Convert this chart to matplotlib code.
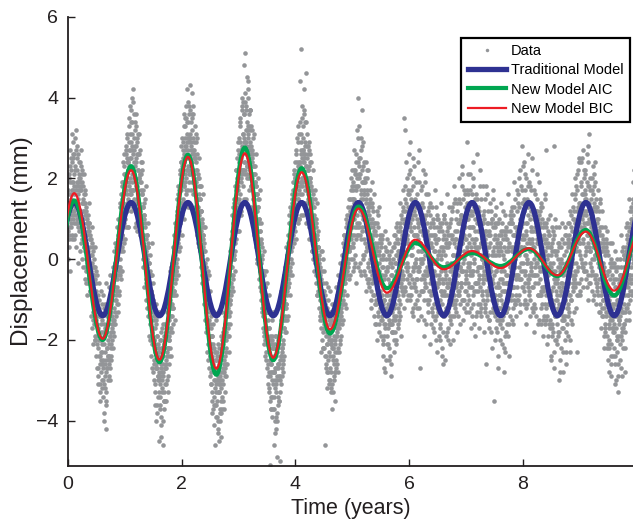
import numpy as np
import matplotlib
matplotlib.use("Agg")
import matplotlib.pyplot as plt
from matplotlib.path import Path
from matplotlib.patches import PathPatch
from matplotlib.lines import Line2D

plt.rcParams['font.family'] = ['Liberation Sans', 'DejaVu Sans']

# observed displacement in tenths of mm, 4 interleaved runs of 100 samples per year
a_y0 = [14, 5, 20, 10, 25, 14, 5, 31, 17, 10, 12, 23, 6, 17, 27, 10, 28, 15, 20, 7,
        19, 9, 23, 4, 14, 10, 18, 4, 12, -2, 14, 0, 9, 3, -5, 8, -2, 9, -6, 1,
        -7, 4, -7, -4, -15, -4, -19, -9, -15, -6, -19, -11, -27, -18, -12, -26, -33, -18, -23, -11,
        -23, -30, -16, -38, -26, -18, -28, -42, -18, -24, -16, -25, -29, -12, -19, -24, -8, -14, -18, -7,
        -5, -15, -5, -9, 2, -8, -2, -11, 5, -2, -2, 10, -3, 9, 6, 18, 5, 16, 23, 13]
a_y1 = [18, 8, 28, 14, 25, 8, 35, 23, 17, 31, 16, 37, 27, 13, 42, 24, 20, 32, 8, 28,
        29, 15, 9, 31, 20, 10, 21, 13, 24, 4, 8, 17, 0, 11, 0, 15, 2, -6, 6, 0,
        4, -7, -14, -3, -20, -11, -4, -18, -27, -13, -26, -14, -33, -22, -15, -40, -27, -22, -34, -45,
        -22, -37, -31, -44, -17, -28, -40, -26, -33, -19, -31, -18, -35, -23, -13, -29, -22, -14, -22, -9,
        -9, -17, -12, -1, -16, -3, -9, 4, -4, 2, -3, 12, 3, 13, 2, 14, 22, 9, 22, 14]
a_y2 = [11, 27, 22, 10, 36, 19, 30, 16, 42, 25, 30, 17, 38, 22, 13, 34, 27, 41, 19, 27,
        16, 29, 19, 33, 11, 24, 13, 26, 15, 3, 16, 6, 18, 7, 12, -4, 5, -2, 8, -8,
        -7, 2, -15, -6, -16, -3, -25, -15, -11, -24, -16, -31, -26, -38, -16, -27, -34, -22, -46, -33,
        -39, -23, -35, -30, -43, -25, -38, -31, -19, -44, -20, -34, -27, -37, -20, -27, -16, -29, -18, -9,
        -19, -10, -19, -4, -10, -13, 0, -6, 7, -5, 9, 0, 15, 2, 12, 22, 10, 19, 7, 29]
a_y3 = [26, 14, 33, 12, 25, 40, 22, 31, 14, 48, 22, 51, 37, 15, 32, 20, 42, 27, 17, 32,
        37, 18, 26, 12, 30, 18, 6, 23, 12, 23, 7, 16, 0, 15, 5, 15, -1, 4, -7, 4,
        3, -12, -3, -11, -19, -3, -13, -25, -13, -21, -20, -31, -13, -28, -51, -20, -28, -34, -19, -39,
        -21, -34, -46, -27, -32, -19, -39, -49, -27, -34, -29, -19, -33, -50, -15, -23, -27, -15, -28, -8,
        -10, -18, -5, -11, 1, -15, -7, 4, -6, 3, -4, 9, 2, 15, -1, 13, 8, 22, 7, 20]
a_y4 = [12, 26, 10, 21, 33, 10, 22, 44, 16, 29, 52, 16, 27, 11, 42, 25, 14, 34, 19, 28,
        11, 26, 15, 29, 5, 20, 24, 9, 14, 2, 16, 2, 11, 2, 15, 2, 10, -9, 5, -3,
        -8, 1, -14, -3, -13, -23, -3, -12, -22, -10, -17, -46, -11, -24, -17, -32, -10, -25, -31, -18,
        -27, -16, -33, -22, -37, -13, -25, -30, -16, -23, -13, -27, -17, -23, -8, -28, -16, -9, -20, -5,
        -13, -1, -16, -4, -11, 6, -5, 3, -12, 3, 9, -3, 7, -5, 15, 3, 12, 0, 20, 8]
a_y5 = [15, 0, 22, 6, 14, -1, 21, 32, 6, 14, 40, 8, 23, -1, 17, 5, 28, 37, 10, 19,
        1, 17, 4, 24, 7, -5, 17, 9, -2, 13, 3, 15, -8, 6, -4, 14, 1, -5, 7, -16,
        7, -11, 1, -7, 11, -5, -16, 2, -11, -4, -11, 6, -9, -20, -2, -16, -5, -28, 0, -12,
        2, -13, -21, -5, -16, -1, -10, -26, -4, -18, -2, -18, -6, -14, 6, -9, -21, 1, -6, 5,
        -12, 0, -15, 7, -5, 5, -7, 1, -9, 13, 5, 35, 12, 32, 10, -10, 5, 17, -2, 12]
a_y6 = [-4, 29, 7, -7, 13, 1, 18, -12, 6, -2, 15, 0, -5, 10, -10, 24, 5, -3, -27, 12,
        -1, 17, 2, -8, 11, -5, 6, 19, -7, 2, 11, -4, -13, 6, -2, 13, -8, 6, -1, -13,
        3, -8, 10, -3, -18, 5, -6, 13, -12, 0, -10, 5, -5, 9, -16, 0, -8, -24, 7, -6,
        10, -9, 1, -13, 4, -4, -18, 7, -7, 13, -5, 6, -14, -1, -9, 12, -6, -10, 4, -2,
        5, -11, 1, -6, 12, -8, -14, 4, -2, 10, -6, 9, -3, 18, -10, 6, 0, -6, 13, -3]
a_y7 = [5, -11, 29, -2, 8, -7, 17, -3, 3, -12, 11, -4, 24, 0, -8, 7, 15, -6, 5, -13,
        -2, 13, -5, 3, 18, -11, 7, 0, -8, 9, -10, 6, -1, 15, -5, -26, 3, 9, -8, 1,
        7, -3, -13, 9, -6, 1, -10, 15, -35, 3, -9, 11, -3, -17, 4, -6, 9, -9, 1, -20,
        3, -12, 6, -5, -14, 12, -8, 0, -23, 7, -4, 5, -16, 2, -10, 9, -6, -2, 12, -10,
        9, -7, 2, -12, 6, -2, 15, -9, 1, -4, -7, 4, 20, -2, 9, -11, 3, -5, 11, 23]
a_y8 = [-7, 24, 5, -4, 14, -12, 7, 0, 18, -6, 5, -8, 10, -1, 17, -4, 4, -12, 12, 0,
        -11, 8, 1, 12, -4, 5, -16, 10, -2, 12, 6, -8, 14, -2, -11, 8, 1, -7, 4, -16,
        8, 27, -4, -11, 1, -9, 6, -15, -1, -8, 8, -11, -1, -18, 2, 28, -14, 10, -10, -5,
        -16, 0, -12, 4, -30, -3, -8, -13, 9, -6, -28, -14, -3, -10, 8, -6, -18, 4, -4, 5,
        -9, 9, -4, -23, 3, -10, 5, -1, 13, -5, 10, -3, 16, -6, -23, -9, 10, 22, 2, 9]
a_y9 = [11, -8, 8, -1, 25, 4, 16, -3, 8, 21, 2, 15, -7, 9, 18, 4, 31, -1, 12, -4,
        15, 0, 7, -10, 13, 18, 1, -5, 7, 12, -8, 7, 1, 12, -5, -13, 6, -3, 12, -8,
        2, -10, 4, -3, -16, 5, -9, 7, -7, -21, 1, -10, -17, -5, -24, -2, -15, 4, -9, -17,
        -11, 2, -31, -5, -17, -10, -23, -2, -19, -6, 0, -14, -27, -4, -20, 3, -8, -16, 0, -9,
        -13, 1, -6, 9, -9, -1, -13, 7, -4, 10, 5, -9, 9, 0, 14, -2, 6, 14, 0, 18]

b_y0 = [7, 16, 3, 19, 13, 22, 9, 17, 26, 12, 21, 9, 30, 14, 18, 25, 11, 19, 8, 24,
        10, 20, 7, 17, 22, 5, 15, 12, 3, 16, 2, 12, -3, 10, 6, -6, 7, -4, 5, -8,
        5, -9, -1, -13, 3, -11, -16, -5, -20, -3, -8, -21, -17, -29, -10, -24, -14, -31, -20, -26,
        -15, -27, -34, -21, -12, -32, -25, -36, -22, -14, -24, -11, -21, -30, -9, -18, -22, -6, -17, -15,
        -16, -3, -13, -1, -10, 3, -7, 6, -4, 8, 7, -4, 13, 2, 15, 3, 19, 8, 21, 11]
b_y1 = [21, 12, 26, 16, 30, 13, 24, 33, 19, 27, 29, 17, 34, 21, 26, 39, 15, 28, 23, 36,
        24, 14, 30, 22, 11, 26, 19, 8, 21, 17, 16, 4, 13, 1, 11, -2, 9, -5, 6, -7,
        -7, 3, -12, -1, -16, -6, -19, -4, -21, -10, -12, -25, -20, -31, -16, -27, -36, -19, -29, -24,
        -30, -20, -34, -27, -41, -22, -32, -29, -37, -21, -27, -16, -31, -25, -19, -33, -13, -24, -20, -10,
        -18, -6, -14, -11, -3, -9, 0, -8, 3, -5, 8, -2, 11, 4, 16, 6, 17, 9, 20, 24]
b_y2 = [23, 14, 29, 25, 18, 33, 28, 20, 35, 31, 22, 34, 29, 19, 37, 31, 24, 29, 36, 21,
        30, 19, 27, 16, 25, 29, 12, 22, 20, 10, 20, 9, 15, 3, 12, 1, 10, -4, 6, -6,
        2, -9, -2, -13, -5, -17, -8, -21, -11, -23, -24, -14, -28, -19, -33, -21, -30, -36, -23, -32,
        -31, -36, -24, -40, -29, -33, -22, -37, -30, -35, -30, -21, -35, -18, -28, -25, -14, -23, -26, -11,
        -9, -17, -6, -14, -3, -11, 2, -9, 5, -2, 6, 13, 1, 15, 8, 17, 5, 20, 12, 22]
b_y3 = [24, 15, 29, 35, 20, 27, 38, 22, 31, 36, 30, 21, 39, 28, 34, 23, 44, 31, 36, 20,
        29, 33, 18, 27, 24, 15, 26, 11, 21, 19, 18, 8, 16, 4, 13, 2, 10, -3, 7, -8,
        4, -10, 1, -14, -4, -18, -7, -20, -10, -23, -13, -26, -21, -32, -17, -29, -25, -37, -20, -30,
        -31, -22, -37, -28, -43, -24, -33, -30, -40, -21, -26, -35, -18, -29, -24, -31, -12, -22, -25, -9,
        -17, -6, -14, -2, -11, -8, 1, -7, 4, -3, 9, -2, 12, 3, 14, 6, 17, 4, 19, 10]
b_y4 = [20, 11, 24, 18, 29, 15, 23, 31, 19, 26, 27, 38, 18, 30, 24, 36, 17, 29, 46, 23,
        25, 14, 28, 19, 23, 11, 20, 24, 8, 17, 15, 6, 13, 3, 10, -1, 9, -4, 6, -6,
        3, -7, -1, -10, -4, -13, 2, -15, -8, -18, -16, -22, -9, -19, -26, -12, -21, -28, -14, -23,
        -24, -13, -28, -20, -15, -31, -22, -26, -11, -35, -21, -12, -25, -18, -9, -22, -17, -6, -15, -13,
        -5, -14, -2, -10, 1, -8, 3, -6, 5, -4, 6, -4, 9, -1, 11, 2, 8, 13, 3, 15]
b_y5 = [12, 19, 4, 15, 22, 8, 17, 26, 11, 20, 18, 25, 9, 21, 14, 30, 16, 7, 23, 15,
        16, 5, 19, 10, 2, 14, 20, -1, 12, 4, 11, -3, 8, 1, 13, -6, 6, -2, 9, -9,
        -4, 6, -10, 3, -7, 8, -13, 1, -9, 5, 3, -12, -2, -15, 1, -10, -19, -4, -13, 2,
        -14, -3, -17, -9, 0, -22, -6, -12, -16, -1, -10, 0, -15, -5, -12, 4, -18, -3, -8, 1,
        4, -9, 2, -13, 8, -4, 11, -7, 3, -1, -4, 7, -8, 10, 1, 14, -3, 6, 16, -6]
b_y6 = [12, -4, 9, -9, 15, 3, -2, 20, -6, 8, -1, 11, -8, 6, 16, -3, 2, -12, 9, 4,
        13, -5, 7, -1, 22, 0, -10, 10, -3, 6, -7, 9, 2, -11, 5, -3, 14, -6, 3, -9,
        6, -12, -1, 8, -7, 2, -15, 4, -4, 11, -13, 1, -6, 7, -10, -20, 3, -5, 9, -14,
        2, -8, 11, -3, -13, 5, -1, -9, 8, -17, -11, 4, -6, 10, -2, -14, 6, -4, 1, -9,
        7, -3, -10, 3, -6, 14, -1, -8, 9, 2, -2, 11, -7, 4, 15, -3, 6, -12, 8, 1]
b_y7 = [-5, 14, 3, -9, 10, -2, 6, 21, -7, 1, 16, -3, 8, -11, 4, 12, -6, 2, -14, 9,
        3, -8, 11, -4, 7, -13, 1, 15, -2, 5, -6, 10, -1, 4, -12, 7, -4, -9, 12, -2,
        3, -15, 6, -5, -1, 10, -9, 2, -13, 5, -4, 8, -11, 1, -18, 5, -7, -2, 10, -12,
        4, -10, -3, 9, -15, 1, -6, -22, 6, -8, -13, 2, 7, -6, -1, -16, 4, -9, 11, -3,
        -2, 9, -7, 3, 13, -10, 0, 6, -5, 12, 7, -4, 14, 1, -9, 10, 3, -1, 17, 5]
b_y8 = [9, -3, 15, 1, -10, 6, 20, -1, 4, -7, 13, -5, 2, 18, -2, 8, -12, 5, 11, -4,
        3, 16, -6, 7, -1, 12, 4, -9, 19, 0, -5, 9, -12, 3, 10, -3, -8, 6, -14, 2,
        5, -9, 0, -14, 7, -4, -11, 3, -17, -2, -8, 4, -16, -3, -11, 6, -20, -6, 1, -13,
        -10, 2, -18, -7, 3, -13, -1, -22, -6, 5, -4, -15, 1, -9, -20, -2, 6, -12, -7, 3,
        -11, 4, -6, 12, -2, -15, 7, 0, -8, 10, 3, 15, -4, 8, -1, 12, 21, 5, -6, 14]
b_y9 = [1, 14, 7, 19, -2, 10, 5, 22, 12, -1, 16, 3, 11, 26, 6, -4, 14, 9, 20, 2,
        9, 17, -3, 12, 4, 21, 0, 8, -6, 15, 6, -7, 10, -1, 4, -11, 8, -5, 2, -14,
        -6, 3, -12, -2, -17, 1, -9, -14, 4, -19, -13, -3, -20, -8, -15, 0, -26, -11, -6, -18,
        -5, -16, -9, -24, -2, -14, -20, -8, -29, -12, -15, -4, -19, -9, 2, -17, -6, -13, 1, -22,
        -7, 3, -12, 5, -2, -9, 8, -5, 1, -10, 9, -2, 12, 4, -5, 10, 2, 16, 7, -3]

c_y0 = [17, 6, 12, 23, 8, 15, 19, 11, 25, 16, 18, 11, 22, 13, 9, 19, 16, 26, 12, 17,
        12, 17, 8, 21, 6, 14, 9, 16, 3, 11, 11, 4, 9, -1, 7, 1, -4, 5, 3, -3,
        -4, 1, -8, -2, -10, -6, -13, -2, -14, -9, -16, -10, -22, -14, -20, -13, -24, -16, -28, -21,
        -18, -25, -19, -31, -23, -17, -35, -22, -27, -16, -20, -14, -26, -19, -13, -21, -16, -10, -15, -9,
        -12, -7, -10, -4, -8, 0, -5, 2, -3, 4, 4, 0, 8, 3, 11, 6, 14, 9, 17, 10]
c_y1 = [13, 20, 17, 24, 15, 22, 27, 18, 25, 20, 25, 19, 31, 22, 17, 27, 21, 34, 25, 18,
        18, 26, 15, 22, 14, 21, 12, 19, 10, 16, 9, 13, 6, 10, 3, 8, 0, 5, -2, 3,
        -5, -1, -9, -4, -12, -8, -15, -9, -17, -12, -20, -15, -23, -17, -26, -19, -24, -30, -21, -28,
        -23, -29, -20, -26, -33, -22, -28, -24, -35, -27, -20, -26, -19, -24, -17, -22, -15, -20, -12, -17,
        -11, -14, -7, -12, -5, -8, -2, -6, 1, -3, 4, 0, 8, 5, 11, 7, 13, 10, 17, 12]
c_y2 = [20, 15, 24, 18, 26, 21, 17, 27, 22, 29, 27, 23, 30, 25, 21, 28, 24, 32, 26, 22,
        21, 26, 19, 25, 18, 22, 15, 20, 13, 18, 11, 15, 8, 12, 5, 9, 2, 6, -1, 4,
        -6, -1, -9, -4, -12, -8, -16, -10, -19, -13, -21, -17, -24, -19, -26, -22, -28, -23, -30, -25,
        -25, -30, -27, -33, -26, -31, -29, -24, -32, -28, -23, -28, -21, -26, -19, -24, -18, -22, -14, -19,
        -12, -16, -9, -13, -6, -10, -2, -7, 1, -4, 5, 0, 9, 4, 11, 7, 15, 10, 18, 13]
c_y3 = [21, 16, 24, 19, 27, 21, 26, 22, 29, 24, 29, 24, 32, 26, 23, 30, 25, 33, 28, 22,
        22, 27, 20, 25, 18, 23, 16, 21, 13, 18, 12, 16, 9, 13, 5, 10, 2, 7, -1, 5,
        -5, 0, -9, -3, -12, -7, -15, -9, -17, -12, -20, -15, -22, -17, -25, -19, -26, -21, -28, -22,
        -22, -28, -24, -30, -21, -27, -23, -29, -26, -20, -21, -26, -19, -24, -17, -22, -15, -20, -12, -17,
        -11, -15, -7, -12, -4, -9, -1, -5, 2, -3, 4, 0, 8, 3, 10, 5, 13, 8, 15, 11]
c_y4 = [18, 13, 20, 15, 22, 17, 24, 18, 23, 19, 25, 20, 27, 19, 24, 21, 26, 18, 23, 20,
        17, 22, 16, 20, 14, 19, 13, 17, 10, 15, 9, 13, 6, 10, 4, 8, 1, 5, -2, 3,
        -4, 0, -7, -2, -9, -5, -11, -6, -13, -8, -15, -10, -17, -12, -18, -13, -19, -14, -20, -15,
        -16, -21, -15, -20, -17, -22, -16, -19, -14, -20, -15, -19, -13, -17, -12, -16, -10, -14, -8, -12,
        -7, -11, -5, -9, -3, -6, 0, -4, 2, -2, 3, 0, 5, 2, 7, 3, 8, 5, 10, 6]
c_y5 = [3, 17, 10, -2, 21, 13, 5, 18, 9, 24, 6, 20, 12, -3, 27, 15, 8, 22, 1, 16,
        19, 8, -4, 15, 11, 22, 3, 13, -7, 10, 14, 0, 9, -10, 5, 12, -5, 3, 16, -4,
        -11, 2, 9, -6, -14, 4, -3, 13, -8, 0, -15, -4, 5, -11, -21, -7, 3, -16, -9, -25,
        -2, -19, -11, 4, -15, -6, -24, -9, 2, -13, -16, -8, 3, -20, -11, -1, -14, 8, -6, -17,
        2, -10, -4, 9, -14, -1, 6, -8, 12, -5, -8, 6, 15, -2, 9, 20, -5, 11, 4, 26]
c_y6 = [8, -10, 17, 1, -5, 11, -14, 6, 23, -1, -7, 13, 4, -12, 9, -2, 19, -9, 7, 0,
        2, -8, 14, -4, 6, -15, 10, 1, -6, 16, -10, 5, -3, 12, -8, -1, 8, -16, 4, -5,
        -3, 9, -14, 2, -9, 6, -1, -20, 10, -7, 5, -12, -4, -17, 8, -8, 1, -11, -26, 3,
        -14, 6, -9, -2, -19, 9, -6, -13, 3, -10, 8, -15, -3, -8, 5, -11, -20, 1, -7, 14,
        -5, 10, -13, 0, 7, -4, -9, 15, -2, -11, 11, -6, 4, 21, -1, 8, -10, 5, 16, -4]
c_y7 = [-8, 10, -1, 16, 4, -13, 8, -4, 12, -7, 5, -9, 18, -1, -16, 10, 3, -6, 26, -3,
        -11, 7, -2, 12, -7, 4, -14, 9, 0, -5, 11, -3, -13, 5, -8, 18, -1, -10, 6, -15,
        -7, 4, -2, 12, -18, -5, 8, -12, 1, -9, 6, -14, -3, 9, -10, -24, 2, -7, -15, 4,
        -9, 7, -17, -2, 5, -11, -28, 3, -6, -13, 8, -6, -12, 3, -19, -1, 7, -14, -4, 10,
        -15, 2, 11, -7, -1, 8, -11, 4, -4, 17, 3, -10, 6, 13, -5, 2, 18, -7, 9, -1]
c_y8 = [6, -8, 12, -3, 17, 1, -11, 9, -5, 26, -4, 14, -10, 7, -1, 22, -7, 3, -13, 10,
        12, -2, 7, -14, 4, 15, -6, 1, 11, -9, -3, 13, -9, 5, -15, 2, 9, -7, -1, 16,
        -12, 3, -6, 10, -19, -2, 6, -9, -24, 1, 2, -17, -7, 5, -12, -27, -3, -14, 8, -9,
        -6, -19, 4, -11, -2, -25, -8, 3, -15, -1, -17, -3, -10, 6, -14, -23, -1, -8, 9, -12,
        4, -13, -1, -9, 8, -4, -16, 2, -7, 5, -5, 9, 2, 18, -3, 6, -9, 13, 4, 24]
c_y9 = [4, 18, -5, 12, 7, -2, 27, 9, 15, 1, 12, -3, 19, 6, 24, -6, 10, 2, 17, 8,
        -2, 11, 23, 3, -9, 14, 6, 19, -4, 9, 13, 1, -9, 7, -2, 15, -7, 4, -12, 6,
        -10, -1, -19, 2, -6, -13, 3, -22, -4, -11, -7, -22, -1, -14, -9, -29, -4, -17, -12, -2,
        -18, -7, -26, -11, -3, -20, -13, -33, -5, -16, -10, -21, -2, -13, -29, -6, -17, 1, -11, -4,
        2, -15, -6, 6, -11, 0, -4, 12, -8, 3, -6, 10, 3, -1, 15, 7, -3, 12, 20, 6]

d_y0 = [0, 21, 8, 27, -3, 16, 24, 6, 19, 29, 5, 26, 13, 32, 3, 22, 9, 18, -1, 21,
        24, 2, 18, 27, 0, 19, -2, 14, 21, -5, 17, -6, 13, -9, 11, 2, 9, 14, -8, 6,
        -14, 8, -17, 2, -21, 0, -2, -20, 3, -24, -4, -27, -9, -31, -6, -13, -35, -25, -8, -30,
        -32, -9, -26, -40, -11, -29, -6, -33, -27, -12, -30, -7, -24, -4, -27, -11, -25, -20, -2, -22,
        2, -19, -16, 4, -14, 8, -11, -13, 10, -9, -8, 14, -5, 16, -3, 19, 2, 24, 4, 26]
d_y1 = [5, 27, 19, 31, 12, 24, 8, 29, 38, 16, 12, 34, 28, 40, 17, 30, 36, 14, 20, 9,
        33, 7, 12, 26, 31, 20, 6, 27, 10, 24, 22, -2, 5, 14, -7, 3, 18, -10, 1, -12,
        9, -14, -4, -19, 1, -8, -24, 4, -17, -28, -6, -30, -21, -36, -11, -27, -14, -38, -29, -33,
        -13, -36, -29, -39, -18, -30, -16, -46, -21, -35, -35, -11, -27, -16, -30, -22, -8, -26, -19, -3,
        -24, -2, -8, -18, 3, -12, 6, -15, 9, -1, -9, 15, 7, 18, -4, 11, 21, 3, 24, 28]
d_y2 = [6, 30, 19, 33, 24, 35, 14, 38, 28, 34, 13, 39, 21, 36, 30, 43, 17, 35, 24, 38,
        36, 11, 25, 13, 31, 19, 30, 6, 21, 4, 25, 2, 9, -2, 18, 8, -6, 16, 3, -11,
        8, -15, -7, -18, 0, -23, -12, -27, -4, -29, -8, -31, -19, -35, -25, -37, -13, -41, -28, -36,
        -15, -39, -27, -42, -21, -45, -33, -40, -24, -38, -37, -13, -22, -31, -17, -33, -29, -7, -20, -5,
        -26, -3, -11, -23, 2, -16, 5, -8, 11, -4, -8, 14, 6, 18, -3, 22, 10, 25, 17, 27]
d_y3 = [7, 30, 22, 34, 11, 37, 28, 39, 18, 36, 15, 41, 29, 38, 21, 45, 33, 40, 24, 37,
        37, 13, 28, 12, 32, 21, 31, 7, 19, 5, 26, 3, 12, -1, 20, 9, -5, 17, 4, -10,
        9, -13, -6, -17, 2, -21, -10, -24, -3, -27, -6, -29, -20, -33, -9, -35, -26, -37, -15, -34,
        -13, -37, -28, -40, -19, -42, -31, -38, -22, -36, -35, -11, -25, -30, -16, -8, -29, -21, -26, -4,
        -24, -2, -12, 3, -18, -7, 6, -14, 9, 11, -9, 13, 4, 16, -4, 19, 8, 21, 14, 24]
d_y4 = [5, 27, 16, 30, 9, 23, 10, 34, 24, 31, 11, 35, 20, 33, 26, 37, 13, 28, 9, 34,
        31, 9, 22, 8, 27, 15, 26, 5, 18, 2, 22, 0, 8, -3, 17, 6, -6, 14, -9, 3,
        7, -12, -5, -15, 2, -17, -8, -20, 0, -22, -3, -24, -14, -27, -6, -21, -28, -7, -19, -30,
        -8, -30, -21, -32, -11, -33, -24, -29, -14, -28, -28, -7, -19, -26, -12, -4, -23, -15, -21, -1,
        -19, 1, -8, 4, -15, -3, 6, -11, 8, 10, -9, 11, -2, 13, 5, 15, -4, 17, 9, 18]
d_y5 = [22, -3, 14, 27, 1, 18, -6, 24, 8, 30, -2, 21, 33, 6, 25, -4, 19, 11, 29, 0,
        24, -3, 11, 20, -8, 16, 3, 22, -6, 14, -5, 17, 1, -12, 10, 19, -9, 8, -14, 4,
        9, -16, 3, -20, 12, -8, -1, -18, 6, -12, -19, 4, -14, -24, 0, -10, -27, 7, -17, -3,
        5, -21, -12, -2, -25, 1, -16, -8, -29, -4, -18, 3, -11, -23, 6, -15, -1, -20, 9, -9,
        7, -16, 0, -11, 14, -6, -19, 10, -3, 17, -12, 9, 18, -7, 4, 24, -1, 13, -9, 21]
d_y6 = [16, -9, 22, 3, -13, 10, -3, 25, -7, 12, -11, 19, 6, -5, 14, -15, 8, 27, -2, 4,
        10, -14, 18, 0, -8, 13, -19, 5, 21, -4, -16, 7, -2, 16, -10, 4, -21, 11, -5, 9,
        13, -4, -17, 6, -11, 17, -1, -14, 8, -23, -6, 10, -19, 2, -13, -3, 14, -22, -9, 5,
        -18, 11, -5, -25, 3, -12, 16, -7, -20, 6, 4, -21, 9, -8, -16, 13, -3, -11, 18, -14,
        -12, 15, -7, 5, -18, 9, -2, 20, -9, -16, 14, -3, 23, -10, 6, -15, 17, 2, -8, 11]
d_y7 = [-13, 17, 2, -6, 21, -10, 11, -1, 14, -17, 8, -14, 20, -3, 13, -19, 5, 16, -8, 2,
        15, -6, -17, 9, -2, 22, -12, 4, -9, 18, -4, 12, -18, 7, -11, 2, 16, -14, 9, -1,
        -17, 6, 14, -9, -3, -22, 10, -6, 17, -13, 9, -20, -7, 13, -15, 3, -12, -27, 6, -5,
        -16, 2, 14, -21, -8, 7, -13, -3, 11, -19, 5, -18, -4, 16, -12, -1, -24, 9, -7, 3,
        13, -9, -16, 6, -4, 19, -11, 1, -14, 8, -10, 16, 2, -5, 22, -13, 8, -3, 14, 28]
d_y8 = [14, -11, 3, 21, -6, 9, -16, 15, -1, 11, -9, 19, 4, -14, 12, -3, 25, -7, 7, -18,
        17, -4, -12, 9, -1, 21, -9, 6, -15, 4, 8, -16, 2, 13, -7, -19, 5, -3, 15, -11,
        -15, 9, -8, -21, 4, -2, -16, 11, -9, -25, 3, -19, -10, 7, -23, -5, -14, 2, -20, -8,
        -21, -2, -13, 8, -18, -9, -28, 0, -12, -17, -7, -23, 4, -15, -10, -26, 2, -16, -4, -19,
        -14, 6, -20, -3, 11, -10, -1, 16, -6, -13, 12, -7, 20, 3, -12, 17, 7, -2, 25, 10]
d_y9 = [-9, 13, 24, 0, 16, -7, 11, 20, -3, 17, 22, -5, 9, 14, -10, 28, 3, 18, -6, 12,
        5, 20, -8, 16, 9, -4, 24, 1, 13, -11, 10, -6, 17, -13, 3, -1, 14, -9, -17, 8,
        -14, 5, -22, -7, 8, -18, -4, -11, 2, -25, -3, -16, -28, -9, 4, -21, -12, -1, -24, -14,
        -22, -1, -14, -30, -7, -19, 0, -26, -10, -15, -4, -25, -12, 6, -18, -9, -22, -2, -16, -28,
        -18, -3, 8, -12, 4, -7, 15, -15, 2, -5, 13, -8, 1, 19, -4, 11, 22, -2, 8, 16]

# sample offset inside each 1/100-year slot for the four runs
runs = [(0.125, [b_y0, b_y1, b_y2, b_y3, b_y4, b_y5, b_y6, b_y7, b_y8, b_y9]),
        (0.375, [d_y0, d_y1, d_y2, d_y3, d_y4, d_y5, d_y6, d_y7, d_y8, d_y9]),
        (0.625, [a_y0, a_y1, a_y2, a_y3, a_y4, a_y5, a_y6, a_y7, a_y8, a_y9]),
        (0.875, [c_y0, c_y1, c_y2, c_y3, c_y4, c_y5, c_y6, c_y7, c_y8, c_y9])]

# model extrema (alternating trough / peak), years and mm
extrema_t = [-0.39, 0.11, 0.61, 1.11, 1.61, 2.11, 2.61, 3.11, 3.61, 4.11, 4.61,
             5.11, 5.61, 6.11, 6.61, 7.11, 7.61, 8.11, 8.61, 9.11, 9.61, 10.11]
traditional = [-1.4, 1.4, -1.4, 1.4, -1.4, 1.4, -1.4, 1.4, -1.4, 1.4, -1.4,
               1.4, -1.4, 1.4, -1.4, 1.4, -1.4, 1.4, -1.4, 1.4, -1.4, 1.4]
model_aic = [-2.0, 1.45, -2.0, 2.3, -2.55, 2.58, -2.86, 2.76, -2.5, 2.25, -1.84,
             1.3, -0.72, 0.4, -0.2, 0.15, -0.17, 0.25, -0.42, 0.72, -0.9, 0.9]
model_bic = [-2.3, 1.63, -1.97, 2.2, -2.49, 2.53, -2.71, 2.62, -2.44, 2.15, -1.74,
             1.25, -0.83, 0.48, -0.25, 0.2, -0.22, 0.27, -0.4, 0.68, -0.78, 0.8]

gray = '#939598'
blue = '#2E3192'
green = '#00A651'
red = '#ED1C24'


def wave_path(times, values, a=0.364):
    # smooth half-cosine segments between consecutive extrema
    verts = [(times[0], values[0])]
    codes = [Path.MOVETO]
    for t0, y0, t1, y1 in zip(times[:-1], values[:-1], times[1:], values[1:]):
        dt = t1 - t0
        verts += [(t0 + a * dt, y0), (t1 - a * dt, y1), (t1, y1)]
        codes += [Path.CURVE4] * 3
    return Path(verts, codes)


fig = plt.figure(figsize=(6.33, 5.21), dpi=100)
ax = fig.add_axes([68 / 633, 55 / 521, 565 / 633, 449.3 / 521])

for offset, years in runs:
    for year, vals in enumerate(years):
        n = len(vals)
        t = year + (np.arange(n) + offset) / n
        ax.plot(t, np.array(vals) / 10, ls='none', marker='o', ms=3.3,
                mfc=gray, mec='none', zorder=1)

for vals, col, lw, z in [(traditional, blue, 3.8, 2), (model_aic, green, 3.0, 3),
                         (model_bic, red, 1.6, 4)]:
    ax.add_patch(PathPatch(wave_path(extrema_t, vals), fill=False, edgecolor=col,
                           lw=lw, zorder=z))

ax.set_xlim(0, 9.94)
ax.set_ylim(-5.12, 6)
ax.set_xticks([0, 2, 4, 6, 8])
ax.set_yticks([-4, -2, 0, 2, 4, 6])
ax.spines['top'].set_visible(False)
ax.spines['right'].set_visible(False)
for s in ['left', 'bottom']:
    ax.spines[s].set_linewidth(1.3)
    ax.spines[s].set_color('#231f20')
ax.tick_params(direction='in', length=5, width=1, labelsize=14, pad=7,
               colors='#231f20')
ax.set_xlabel('Time (years)', fontsize=15.5, labelpad=4, color='#231f20')
ax.set_ylabel('Displacement (mm)', fontsize=17.5, labelpad=2, color='#231f20')

handles = [Line2D([], [], ls='none', marker='o', ms=2.5, mfc=gray, mec='none'),
           Line2D([], [], color=blue, lw=3.8),
           Line2D([], [], color=green, lw=3.0),
           Line2D([], [], color=red, lw=1.6)]
labels = ['Data', 'Traditional Model', 'New Model AIC', 'New Model BIC']
leg = ax.legend(handles, labels, loc='upper right', bbox_to_anchor=(0.995, 0.953),
                borderaxespad=0, fontsize=10.5, handlelength=2.6, handletextpad=0.35,
                labelspacing=0.35, borderpad=0.45, fancybox=False, framealpha=1)
leg.get_frame().set_edgecolor('black')
leg.get_frame().set_linewidth(1.6)

fig.savefig('out.png', dpi=100)
